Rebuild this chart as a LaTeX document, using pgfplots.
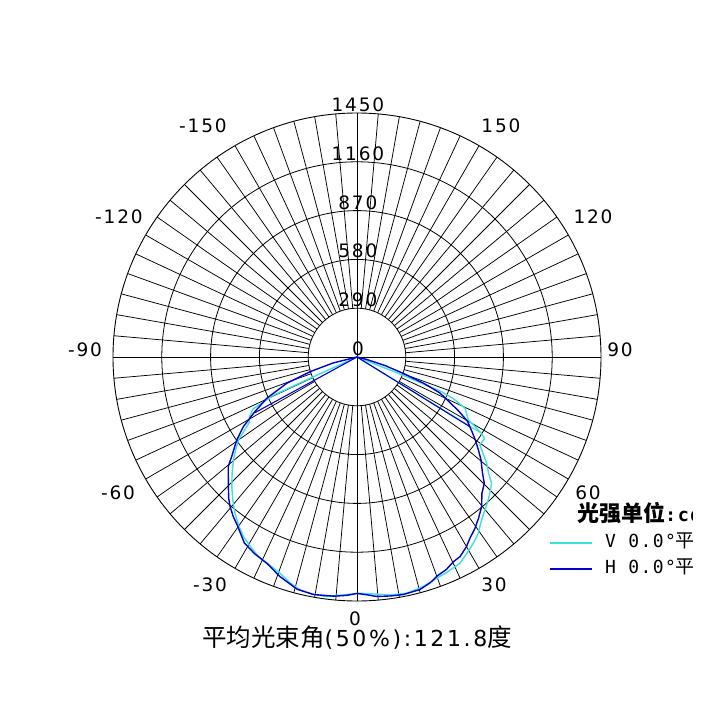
\documentclass[border=0pt]{standalone}
\usepackage{pgfplots}
\pgfplotsset{compat=1.18}
\usepgfplotslibrary{polar}
\usepackage{pgfplotstable}
\usepackage{fontspec}
\newfontfamily\cjk{Noto Sans CJK SC}
\newfontfamily\ticksf{DejaVu Sans}[LetterSpace=10]
\newfontfamily\titlesf{DejaVu Sans}[LetterSpace=12]
\newfontfamily\monol{DejaVu Sans Mono}[LetterSpace=8]
\definecolor{vcol}{RGB}{60,225,220}
\definecolor{hcol}{RGB}{0,0,200}
\newcommand\tf{\ticksf\fontsize{18.5bp}{20bp}\selectfont}

% angle measured from straight down, positive towards the right
\pgfplotstableread{
a r
-78 0
-76 146
-72.6 292
-69.5 446
-65.4 590
-61.8 690
-58.5 792
-55.4 868
-51.5 952
-49.6 1005
-47.9 1031
-44.8 1085
-42.2 1135
-40.3 1166
-37.8 1200
-35.6 1225
-31.2 1292
-27.5 1318
-23.6 1338
-19.3 1383
-14.5 1425
-10.4 1435
-5.5 1428
-2.5 1418
0 1405
2.5 1415
4.7 1428
8 1434
11 1438
15.1 1432
18 1410
20.2 1385
22.8 1370
25.2 1345
27.3 1335
30 1301
32 1268
34.5 1237
37 1200
39.8 1157
42.5 1099
45.2 1066
47.5 1010
50.3 958
52.5 910
54.9 860
57 815
59.8 760
62 685
64.5 595
66.6 535
68.5 426
70.5 290
73 175
76 60
78 0
}\Hdata

\pgfplotstableread{
a r
-66 0
-65.6 330
-65.4 547
-63.5 690
-61 730
-58.7 750
-55 860
-52.5 910
-50.2 956
-47 1015
-44 1071
-41 1125
-38 1178
-35 1225
-32.3 1263
-29 1295
-26.3 1323
-23 1340
-19.6 1364
-16.5 1400
-13.7 1426
-10.5 1434
-7.2 1435
-3.3 1416
0.7 1404
4.7 1414
8 1428
11.9 1435
16 1420
18.5 1405
20.4 1395
23 1385
26.5 1370
29 1340
32 1305
34.5 1272
37.4 1219
39.9 1185
42 1160
44.3 1131
46.8 1097
48.5 1045
50.7 996
54.4 898
57.4 900
58.5 868
60.5 760
62.5 735
64.6 711
66.5 630
67.7 546
68.5 265
69 0
}\Vdata

\pgfplotstableread{
a r
-61.4 0
-61.4 690
}\HlineL
\pgfplotstableread{
a r
58.3 0
58.3 790
}\HlineR
\pgfplotstableread{
a r
58.5 0
58.5 868
}\VlineR

\begin{document}
\begin{tikzpicture}
\begin{polaraxis}[
  scale only axis, width=488bp, height=488bp,
  ymin=0, ymax=1450,
  xtick=\empty,
  ytick={290,580,870,1160}, yticklabels={},
  ytick style={draw=none}, major tick length=0pt,
  ymajorgrids, grid style={black, line width=0.8bp},
  axis line style={black, line width=0.9bp},
  clip=false,
]
\pgfplotsinvokeforeach{0,5,...,355}{
  \draw[black, line width=0.75bp] (axis cs:#1,290) -- (axis cs:#1,1450);
}
\draw[black, line width=0.8bp] (axis cs:0,1450) -- (axis cs:180,1450);
\draw[black, line width=0.8bp] (axis cs:90,1450) -- (axis cs:270,1450);
\coordinate (C) at (axis cs:0,0);

\addplot[vcol, line width=1.4bp] table[x expr=\thisrow{a}-90, y=r] {\Vdata};
\addplot[vcol, line width=1.1bp] table[x expr=\thisrow{a}-90, y=r] {\VlineR};
\addplot[hcol, line width=1.4bp] table[x expr=\thisrow{a}-90, y=r] {\Hdata};
\addplot[hcol, line width=1.1bp] table[x expr=\thisrow{a}-90, y=r] {\HlineL};
\addplot[hcol, line width=1.1bp] table[x expr=\thisrow{a}-90, y=r] {\HlineR};

\pgfplotsinvokeforeach{290,580,870,1160,1450}{
  \node[anchor=base, inner sep=0pt, yshift=1.5bp, xshift=0.9bp] at (axis cs:90,#1) {\tf #1};
}
\node[anchor=base, inner sep=0pt, yshift=2bp, xshift=0.9bp] at (axis cs:90,0) {\tf 0};
\end{polaraxis}

\node at ([shift={(-2bp,-262bp)}]C) {\tf 0};
\node at ([shift={(137bp,-228bp)}]C) {\tf 30};
\node at ([shift={(231bp,-136bp)}]C) {\tf 60};
\node at ([shift={(263bp,7bp)}]C) {\tf 90};
\node at ([shift={(236bp,140bp)}]C) {\tf 120};
\node at ([shift={(144bp,231bp)}]C) {\tf 150};
\node at ([shift={(-154bp,231bp)}]C) {\tf -150};
\node at ([shift={(-238bp,140bp)}]C) {\tf -120};
\node at ([shift={(-272bp,7bp)}]C) {\tf -90};
\node at ([shift={(-239bp,-136bp)}]C) {\tf -60};
\node at ([shift={(-147bp,-228bp)}]C) {\tf -30};

\node[anchor=base, inner sep=0pt] at ([shift={(0bp,-289bp)}]C)
  {{\cjk\fontsize{24.5bp}{26bp}\selectfont 平均光束角}{\titlesf\fontsize{22bp}{24bp}\selectfont (50\%):121.8}{\cjk\fontsize{24.5bp}{26bp}\selectfont 度}};

\begin{scope}
\clip ([shift={(183bp,-232bp)}]C) rectangle ([shift={(335bp,-140bp)}]C);
\node[anchor=base west, inner sep=0pt] at ([shift={(220bp,-165bp)}]C)
  {{\cjk\bfseries\fontsize{22bp}{24bp}\selectfont 光强单位}{\monol\bfseries\fontsize{18.5bp}{20bp}\selectfont :cd}};
\draw[vcol, line width=1.6bp] ([shift={(193bp,-186bp)}]C) -- ([shift={(235bp,-186bp)}]C);
\node[anchor=base west, inner sep=0pt] at ([shift={(248bp,-191bp)}]C)
  {{\monol\fontsize{18bp}{20bp}\selectfont V 0.0°}{\cjk\fontsize{19bp}{20bp}\selectfont 平面}};
\draw[hcol, line width=1.6bp] ([shift={(193bp,-212bp)}]C) -- ([shift={(235bp,-212bp)}]C);
\node[anchor=base west, inner sep=0pt] at ([shift={(248bp,-217bp)}]C)
  {{\monol\fontsize{18bp}{20bp}\selectfont H 0.0°}{\cjk\fontsize{19bp}{20bp}\selectfont 平面}};
\end{scope}

\pgfresetboundingbox
\path[use as bounding box] ([shift={(-357bp,-353bp)}]C) rectangle ([shift={(353bp,357bp)}]C);
\end{tikzpicture}
\end{document}
